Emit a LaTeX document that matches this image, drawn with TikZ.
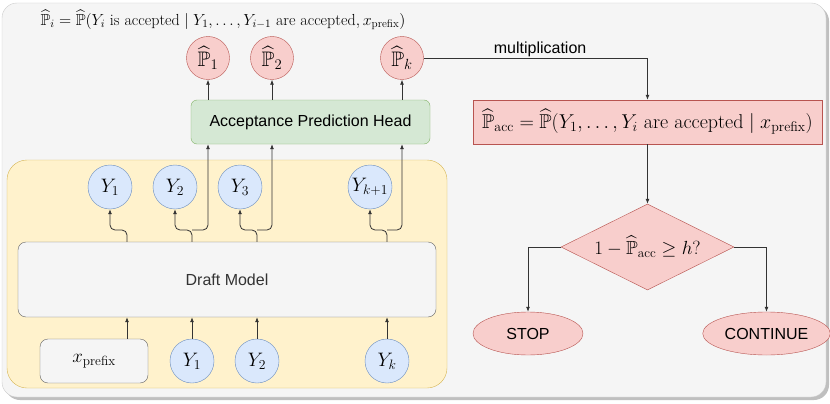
\documentclass[tikz,border=0pt]{standalone}
\usepackage{fix-cm}
\usepackage{amsmath,amssymb}
\usepackage{fontspec}
\setsansfont{Liberation Sans}
\usetikzlibrary{arrows.meta,positioning,shapes.geometric}

\newcommand{\rmtext}[1]{\text{\rmfamily #1}}

\begin{document}
\begin{tikzpicture}[x=1pt,y=-1pt,>={Latex[length=5pt,width=4pt]},
  font=\sffamily\fontsize{16}{19}\selectfont,
  link/.style={draw=black!80,line width=0.8pt},
  ycirc/.style={circle,draw=bluedraw,fill=bluefill,minimum size=44pt,inner sep=0pt,
    font=\fontsize{19.5}{21}\selectfont},
  pcirc/.style={circle,draw=reddraw,fill=redfill,minimum size=43pt,inner sep=0pt,
    font=\fontsize{21}{23}\selectfont},
  headbox/.style={draw=greendraw,fill=greenfill,rounded corners=6pt,
    minimum width=239pt,minimum height=44pt},
  greybox/.style={draw=greydraw,fill=greyfill,rounded corners=8pt},
  accbox/.style={draw=reddraw,fill=redfill,minimum width=349pt,minimum height=44pt,
    inner sep=0pt,font=\fontsize{20}{22}\selectfont},
  decide/.style={diamond,draw=reddraw,fill=redfill,minimum width=173pt,
    minimum height=86pt,inner sep=0pt,aspect=2,font=\fontsize{19}{21}\selectfont},
  endoval/.style={ellipse,draw=reddraw,fill=redfill,minimum height=43pt}]
\definecolor{bluefill}{HTML}{DAE8FC}
\definecolor{bluedraw}{HTML}{6C8EBF}
\definecolor{redfill}{HTML}{F8CECC}
\definecolor{reddraw}{HTML}{B85450}
\definecolor{greenfill}{HTML}{D5E8D4}
\definecolor{greendraw}{HTML}{82B366}
\definecolor{yellowfill}{HTML}{FFF2CC}
\definecolor{yellowdraw}{HTML}{D6B656}
\definecolor{greyfill}{HTML}{F5F5F5}
\definecolor{greydraw}{HTML}{666666}

\useasboundingbox (0,0) rectangle (830,404);

% Panel behind everything.
\fill[black!25,rounded corners=15pt] (5,6) rectangle (829,400);
\draw[black!20,fill=greyfill,rounded corners=15pt] (2,3) rectangle (826,397);
\node (title) at (223,20) {\fontsize{16}{18}\selectfont
  $\widehat{\mathbb{P}}_i=\widehat{\mathbb{P}}(Y_i\rmtext{ is accepted}\mid Y_1,\ldots,Y_{i-1}\rmtext{ are accepted},x_{\rmtext{prefix}})$};

% Draft model block.
\node[draw=yellowdraw,fill=yellowfill,rounded corners=20pt,
  minimum width=440pt,minimum height=228pt] (drafter) at (227,274) {};
\node[greybox,minimum width=418pt,minimum height=75pt,text=black!80] (draft) at (227,279.5) {Draft Model};

\node[greybox,minimum width=108pt,minimum height=44pt] (xp) at (94,361)
  {\fontsize{19}{21}\selectfont$x_{\rmtext{prefix}}$};
\node[ycirc] (yi1) at (192,361) {$Y_1$};
\node[ycirc] (yi2) at (257,361) {$Y_2$};
\node[ycirc] (yik) at (387,361) {$Y_k$};

\node[ycirc] (yo1) at (110,187) {$Y_1$};
\node[ycirc] (yo2) at (175,187) {$Y_2$};
\node[ycirc] (yo3) at (240,187) {$Y_3$};
\node[ycirc] (yok) at (370,187) {$Y_{k+1}$};

\coordinate (t1) at (127,230);
\coordinate (t2) at (192,230);
\coordinate (t3) at (257,230);
\coordinate (t4) at (387,230);

% Acceptance head and its outputs.
\node[headbox] (head) at (310.5,122) {Acceptance Prediction Head};
\node[pcirc] (p1) at (208,58) {$\widehat{\mathbb{P}}_1$};
\node[pcirc] (p2) at (272,58) {$\widehat{\mathbb{P}}_2$};
\node[pcirc] (pk) at (402,58) {$\widehat{\mathbb{P}}_k$};

% Inputs into the draft model.
\draw[link,->] (xp.north -| t1) -- (draft.south -| t1);
\foreach \n in {yi1,yi2,yik}
  \draw[link,->] (\n.north) -- (draft.south -| \n);

% Outputs: next token and hidden state to the head.
\foreach \t/\y in {t1/yo1,t2/yo2,t3/yo3,t4/yok}
  \draw[link,->,rounded corners=5pt] (draft.north -| \t) -- (\t) -| (\y.south);
\foreach \t/\p in {t2/p1,t3/p2,t4/pk}
  \draw[link,->,rounded corners=5pt] (\t) -| (head.south -| \p);
\foreach \p in {p1,p2,pk}
  \draw[link,->] (head.north -| \p) -- (\p.south);

% Decision on the right.
\node[accbox] (pacc) at (647.5,122)
  {$\widehat{\mathbb{P}}_{\rmtext{acc}}=\widehat{\mathbb{P}}(Y_1,\ldots,Y_i\rmtext{ are accepted}\mid x_{\rmtext{prefix}})$};
\node[decide] (check) at (647.5,247) {$1-\widehat{\mathbb{P}}_{\rmtext{acc}}\geq h?$};
\node[endoval,minimum width=110pt] (stop) at (528,333.5) {STOP};
\node[endoval,minimum width=109pt] (cont) at (766.5,333.5) {CONTINUE};

\draw[link,->] (pk.east) -| (pacc.north)
  node[pos=0.26,anchor=south,inner sep=1pt] {multiplication};
\draw[link,->] (pacc.south) -- (check.north);
\draw[link,->] (check.west) -| (stop.north);
\draw[link,->] (check.east) -| (cont.north);
\end{tikzpicture}
\end{document}
